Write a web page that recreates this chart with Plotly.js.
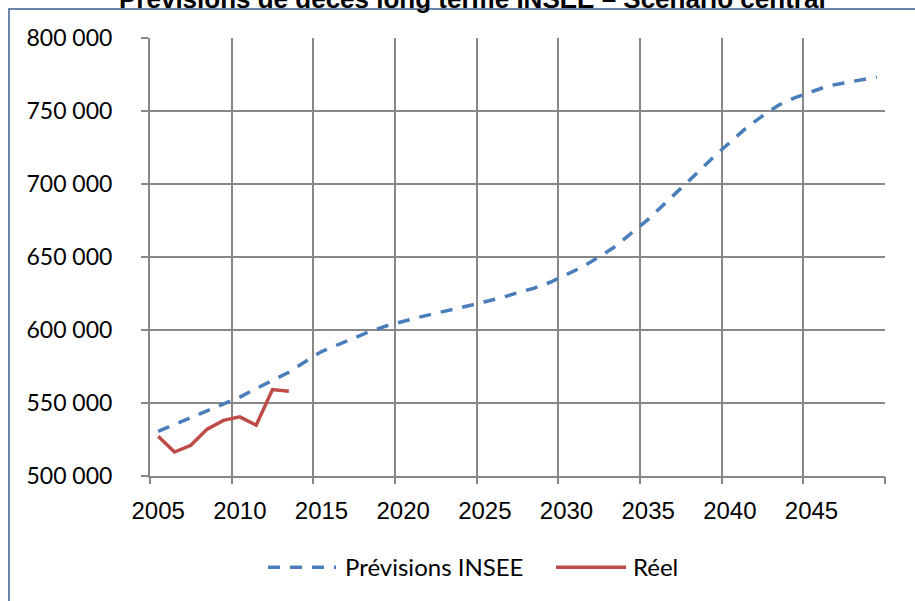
<!DOCTYPE html>
<html>
<head>
<meta charset="utf-8">
<script src="https://cdn.plot.ly/plotly-3.0.1.min.js"></script>
<style>html,body{margin:0;padding:0;background:#fff;}#chart{width:915px;height:601px;}</style>
</head>
<body>
<div id="chart"></div>
<script>
// Data
const yearsForecast = [2005,2006,2007,2008,2009,2010,2011,2012,2013,2014,2015,2016,2017,2018,2019,2020,2021,2022,2023,2024,2025,2026,2027,2028,2029,2030,2031,2032,2033,2034,2035,2036,2037,2038,2039,2040,2041,2042,2043,2044,2045,2046,2047,2048,2049];
const forecastINSEE = [530600,535200,540000,544800,549600,554000,559900,565300,571100,578300,585200,589900,594700,599200,602900,606000,608800,611500,613900,616600,619400,622100,625500,628600,632700,637800,643300,650100,657300,666600,675800,686400,696700,707600,718500,728500,738400,746600,754100,759200,763300,767100,769200,771500,773300];
const yearsActual = [2005,2006,2007,2008,2009,2010,2011,2012,2013];
const actualDeaths = [527200,516400,521000,532100,538100,540500,534800,559200,558000];
const xTickLabels = ['2005','2010','2015','2020','2025','2030','2035','2040','2045'];
const xTickYears = [2005,2010,2015,2020,2025,2030,2035,2040,2045];
const categoryBoundaries = [2004.5,2009.5,2014.5,2019.5,2024.5,2029.5,2034.5,2039.5,2044.5,2049.5];
const seriesNames = ['Prévisions INSEE','Réel'];
const chartTitle = 'Prévisions de décès long terme INSEE – Scénario central';

const blue = '#4a7ebb', red = '#be4b48', grid = '#878787';

const traces = [
  // invisible helper so the category-boundary axis (vertical gridlines) is drawn
  {x: [categoryBoundaries[0], categoryBoundaries[categoryBoundaries.length - 1]], y: [null, null],
   type: 'scatter', mode: 'lines', showlegend: false, hoverinfo: 'skip', xaxis: 'x2', yaxis: 'y'},
  {x: yearsForecast, y: forecastINSEE, type: 'scatter', mode: 'lines', name: seriesNames[0],
   line: {color: blue, width: 3.5, dash: '12px,10px'}, showlegend: false, xaxis: 'x', yaxis: 'y'},
  {x: yearsActual, y: actualDeaths, type: 'scatter', mode: 'lines', name: seriesNames[1],
   line: {color: red, width: 3.5}, showlegend: false, xaxis: 'x', yaxis: 'y'}
];

const L = 150, R = 885, T = 37.5, B = 476.5;
const W = R - L, H = B - T;
const px = x => (x - L) / W;
const py = y => (B - y) / H;

const layout = {
  width: 915, height: 601,
  margin: {l: L, r: 915 - R, t: T, b: 601 - B, pad: 0},
  paper_bgcolor: '#ffffff', plot_bgcolor: '#ffffff',
  separators: ', ',
  showlegend: false,
  xaxis: {
    range: [2004.5, 2049.5], tickvals: xTickYears, ticktext: xTickLabels,
    showgrid: false, zeroline: false, showline: true, linecolor: grid, linewidth: 2,
    ticks: '', tickfont: {family: 'Liberation Sans, Arial, sans-serif', size: 24, color: '#000'},
    ticklabelstandoff: 12
  },
  xaxis2: {
    overlaying: 'x', anchor: 'y', side: 'bottom', range: [2004.5, 2049.5], tickvals: categoryBoundaries,
    showticklabels: false, showgrid: true, gridcolor: grid, gridwidth: 2,
    ticks: 'outside', ticklen: 7, tickwidth: 2, tickcolor: grid, zeroline: false, showline: false
  },
  yaxis: {
    range: [500000, 800000], dtick: 50000, tick0: 500000, tickformat: ',d',
    showgrid: true, gridcolor: grid, gridwidth: 2, zeroline: false,
    showline: true, linecolor: grid, linewidth: 2,
    ticks: 'outside', ticklen: 7, tickwidth: 2, tickcolor: grid,
    tickfont: {family: 'Lato, Open Sans, sans-serif', size: 23, color: '#000'},
    ticklabelstandoff: 24
  },
  shapes: [
    {type: 'rect', xref: 'paper', yref: 'paper', x0: px(9), x1: px(918), y0: py(8.5), y1: py(620),
     line: {color: '#3d5f8e', width: 1.5}, fillcolor: 'rgba(0,0,0,0)', layer: 'below'},
    {type: 'line', xref: 'paper', yref: 'paper', x0: px(268), x1: px(336), y0: py(568), y1: py(568),
     line: {color: blue, width: 3.5, dash: '12px,10px'}},
    {type: 'line', xref: 'paper', yref: 'paper', x0: px(556), x1: px(626), y0: py(568), y1: py(568),
     line: {color: red, width: 3.5}}
  ],
  annotations: [
    {text: '<b>' + chartTitle + '</b>', xref: 'paper', yref: 'paper', x: px(472), y: py(-2),
     xanchor: 'center', yanchor: 'middle', showarrow: false,
     font: {family: 'Liberation Sans, Arial, sans-serif', size: 26, color: '#000'}},
    {text: seriesNames[0], xref: 'paper', yref: 'paper', x: px(343), y: py(567),
     xanchor: 'left', yanchor: 'middle', showarrow: false,
     font: {family: 'Lato, Open Sans, sans-serif', size: 24, color: '#000'}},
    {text: seriesNames[1], xref: 'paper', yref: 'paper', x: px(631), y: py(567),
     xanchor: 'left', yanchor: 'middle', showarrow: false,
     font: {family: 'Lato, Open Sans, sans-serif', size: 24, color: '#000'}}
  ]
};

Plotly.newPlot('chart', traces, layout, {displayModeBar: false, staticPlot: true});
</script>
</body>
</html>
